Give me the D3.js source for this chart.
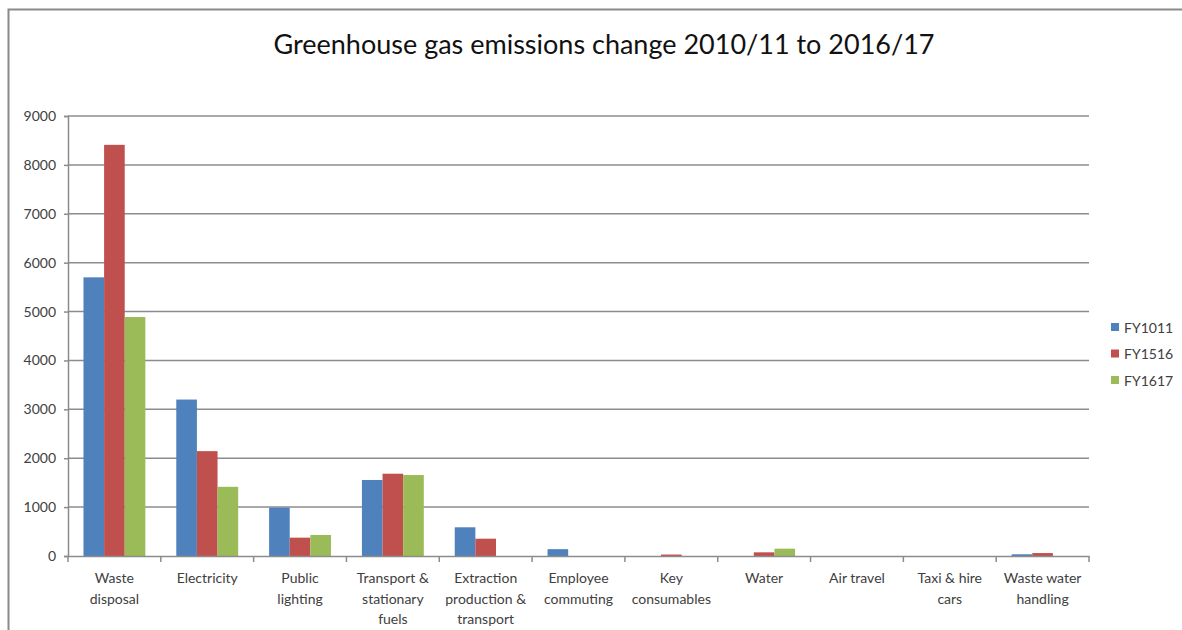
<!DOCTYPE html>
<html>
<head>
<meta charset="utf-8">
<script src="https://cdn.jsdelivr.net/npm/d3@7"></script>
<style>
  html, body { margin: 0; padding: 0; background: #fff; }
  svg { display: block; }
</style>
</head>
<body>
<svg id="chart" width="1182" height="630"></svg>
<script>
const categories = [
  "Waste disposal", "Electricity", "Public lighting", "Transport & stationary fuels",
  "Extraction production & transport", "Employee commuting", "Key consumables",
  "Water", "Air travel", "Taxi & hire cars", "Waste water handling"
];
const categoryLines = [
  ["Waste", "disposal"], ["Electricity"], ["Public", "lighting"],
  ["Transport &", "stationary", "fuels"], ["Extraction", "production &", "transport"],
  ["Employee", "commuting"], ["Key", "consumables"], ["Water"], ["Air travel"],
  ["Taxi & hire", "cars"], ["Waste water", "handling"]
];
const seriesNames = ["FY1011", "FY1516", "FY1617"];
const FY1011 = [5700, 3200, 990, 1555, 587, 140, 0, 0, 0, 0, 35];
const FY1516 = [8410, 2145, 375, 1683, 354, 0, 30, 75, 0, 0, 60];
const FY1617 = [4888, 1415, 430, 1656, 0, 0, 0, 150, 0, 0, 0];
const yTicks = [0, 1000, 2000, 3000, 4000, 5000, 6000, 7000, 8000, 9000];
const title = "Greenhouse gas emissions change 2010/11 to 2016/17";

const seriesValues = [FY1011, FY1516, FY1617];
const colors = ["#4F81BD", "#C0504D", "#9BBB59"];
const font = "Lato, 'Liberation Sans', sans-serif";
const textColor = "#404040";
const gridColor = "#8c8c8c";

const svg = d3.select("#chart");
const plot = { left: 68, right: 1089, top: 116, bottom: 556 };

// outer frame
svg.append("rect").attr("x", 8.5).attr("y", 9.5).attr("width", 1300).attr("height", 800)
  .attr("fill", "none").attr("stroke", "#8a8a8a").attr("stroke-width", 2);

// title
svg.append("text").attr("x", 604).attr("y", 54).attr("text-anchor", "middle")
  .attr("font-family", font).attr("font-size", 27).attr("fill", "#111")
  .text(title);

const x = d3.scaleBand().domain(categories).range([plot.left, plot.right]).paddingInner(0).paddingOuter(0);
const inner = d3.scaleBand().domain(seriesNames)
  .range([x.bandwidth() * 0.75 / 4.5, x.bandwidth() - x.bandwidth() * 0.75 / 4.5]);
const y = d3.scaleLinear().domain([0, 9000]).range([plot.bottom, plot.top]);

// gridlines
svg.append("g").selectAll("line").data(yTicks.filter(d => d > 0)).join("line")
  .attr("x1", plot.left).attr("x2", plot.right)
  .attr("y1", d => y(d)).attr("y2", d => y(d))
  .attr("stroke", gridColor).attr("stroke-width", 1.5);

// y axis
const yAxis = d3.axisLeft(y).tickValues(yTicks).tickSize(4).tickPadding(8).tickFormat(d3.format("d"));
const gy = svg.append("g").attr("transform", `translate(${plot.left},0)`).call(yAxis);
gy.select(".domain").attr("stroke", gridColor).attr("stroke-width", 1.5);
gy.selectAll(".tick line").attr("stroke", gridColor).attr("stroke-width", 1.5);
gy.selectAll(".tick text").attr("font-family", font).attr("font-size", 14).attr("fill", textColor);

// bars
const groups = svg.append("g").selectAll("g").data(categories).join("g")
  .attr("transform", d => `translate(${x(d)},0)`);
groups.selectAll("rect").data((d, i) => seriesNames.map((s, j) => ({ s, j, v: seriesValues[j][i] })))
  .join("rect")
  .attr("x", d => inner(d.s)).attr("width", inner.bandwidth())
  .attr("y", d => y(d.v)).attr("height", d => y(0) - y(d.v))
  .attr("fill", d => colors[d.j]);

// x axis
const xAxis = d3.axisBottom(x).tickSize(0).tickFormat("");
const gx = svg.append("g").attr("transform", `translate(0,${plot.bottom})`).call(xAxis);
gx.select(".domain").attr("stroke", gridColor).attr("stroke-width", 1.5);
const boundaries = categories.map(c => x(c)).concat([plot.right]);
gx.selectAll(".bnd").data(boundaries).join("line").attr("class", "bnd")
  .attr("x1", d => d).attr("x2", d => d).attr("y1", 0).attr("y2", 6)
  .attr("stroke", gridColor).attr("stroke-width", 1.5);

// category labels
const labels = svg.append("g").selectAll("text").data(categories).join("text")
  .attr("text-anchor", "middle").attr("font-family", font).attr("font-size", 14).attr("fill", textColor)
  .attr("transform", d => `translate(${x(d) + x.bandwidth() / 2},${plot.bottom + 27})`);
labels.each(function(d, i) {
  d3.select(this).selectAll("tspan").data(categoryLines[i]).join("tspan")
    .attr("x", 0).attr("dy", (t, k) => k === 0 ? 0 : 20.5).text(t => t);
});

// legend
const legend = svg.append("g").selectAll("g").data(seriesNames).join("g")
  .attr("transform", (d, i) => `translate(1111,${328 + i * 26.5})`);
legend.append("rect").attr("x", 0).attr("y", -5).attr("width", 8).attr("height", 8)
  .attr("fill", (d, i) => colors[i]);
legend.append("text").attr("x", 13).attr("y", 0).attr("dy", "0.35em")
  .attr("font-family", font).attr("font-size", 14).attr("fill", textColor).text(d => d);
</script>
</body>
</html>
